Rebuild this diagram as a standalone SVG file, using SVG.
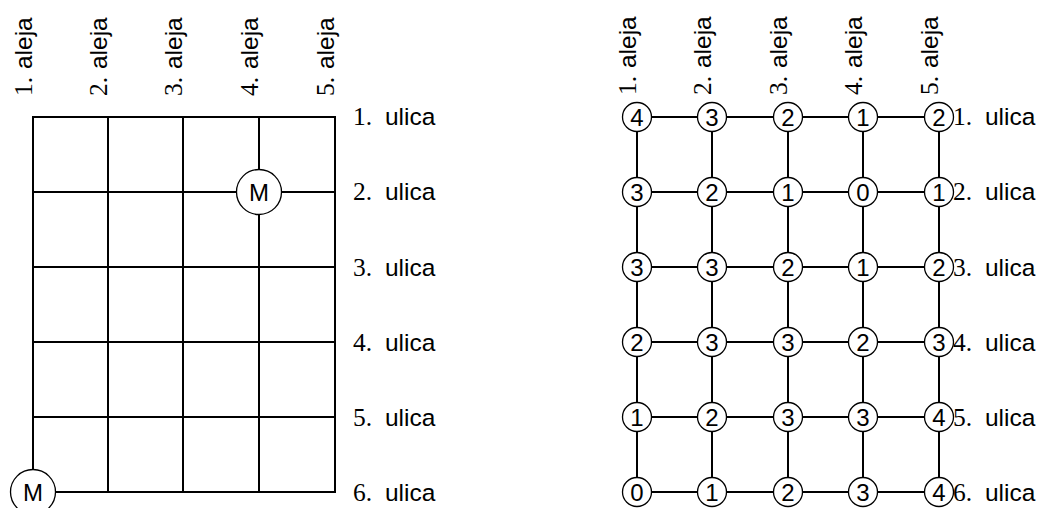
<svg xmlns="http://www.w3.org/2000/svg" width="1043" height="508" viewBox="0 0 1043 508">
  <style>
    .edge { stroke: #000; stroke-width: 2; fill: none; stroke-linecap: square; }
    .node circle { fill: #fff; stroke: #000; stroke-width: 1.3; }
    .num { font-family: "Liberation Serif", serif; font-size: 25.5px; }
    .sans { font-family: "Liberation Sans", sans-serif; font-size: 24.5px; }
    .val { font-family: "Liberation Sans", sans-serif; font-size: 24px; text-anchor: middle; }
  </style>

  <!-- left street map -->
  <g id="left-connectors">
    <path class="edge" d="M33 117H335M33 192H335M33 267H335M33 342H335M33 417H335M33 492H335"/>
    <path class="edge" d="M33 117V492M108 117V492M183 117V492M259 117V492M335 117V492"/>
  </g>
  <g id="left-avenues">
    <text transform="translate(32,96) rotate(-90)"><tspan class="num">1.</tspan><tspan class="sans" dx="1"> aleja</tspan></text>
    <text transform="translate(107,96) rotate(-90)"><tspan class="num">2.</tspan><tspan class="sans" dx="1"> aleja</tspan></text>
    <text transform="translate(182,96) rotate(-90)"><tspan class="num">3.</tspan><tspan class="sans" dx="1"> aleja</tspan></text>
    <text transform="translate(258,96) rotate(-90)"><tspan class="num">4.</tspan><tspan class="sans" dx="1"> aleja</tspan></text>
    <text transform="translate(334,96) rotate(-90)"><tspan class="num">5.</tspan><tspan class="sans" dx="1"> aleja</tspan></text>
  </g>
  <g id="left-streets">
    <text x="353" y="125"><tspan class="num">1.</tspan><tspan class="sans" dx="6"> ulica</tspan></text>
    <text x="353" y="200"><tspan class="num">2.</tspan><tspan class="sans" dx="6"> ulica</tspan></text>
    <text x="353" y="276"><tspan class="num">3.</tspan><tspan class="sans" dx="6"> ulica</tspan></text>
    <text x="353" y="351"><tspan class="num">4.</tspan><tspan class="sans" dx="6"> ulica</tspan></text>
    <text x="353" y="426"><tspan class="num">5.</tspan><tspan class="sans" dx="6"> ulica</tspan></text>
    <text x="353" y="501"><tspan class="num">6.</tspan><tspan class="sans" dx="6"> ulica</tspan></text>
  </g>
  <g id="m-top" class="node">
    <circle cx="259" cy="192" r="22.5"/>
    <text class="val" x="259" y="200.5">M</text>
  </g>
  <g id="m-bottom" class="node">
    <circle cx="33" cy="492" r="22.5"/>
    <text class="val" x="33" y="500.5">M</text>
  </g>

  <!-- right distance grid -->
  <g id="right-connectors">
    <path class="edge" d="M637 117H939M637 192H939M637 267H939M637 342H939M637 417H939M637 492H939"/>
    <path class="edge" d="M637 117V492M712 117V492M788 117V492M863 117V492M939 117V492"/>
  </g>
  <g id="right-avenues">
    <text transform="translate(636,95) rotate(-90)"><tspan class="num">1.</tspan><tspan class="sans" dx="1"> aleja</tspan></text>
    <text transform="translate(711,95) rotate(-90)"><tspan class="num">2.</tspan><tspan class="sans" dx="1"> aleja</tspan></text>
    <text transform="translate(787,95) rotate(-90)"><tspan class="num">3.</tspan><tspan class="sans" dx="1"> aleja</tspan></text>
    <text transform="translate(862,95) rotate(-90)"><tspan class="num">4.</tspan><tspan class="sans" dx="1"> aleja</tspan></text>
    <text transform="translate(938,95) rotate(-90)"><tspan class="num">5.</tspan><tspan class="sans" dx="1"> aleja</tspan></text>
  </g>
  <g id="right-streets">
    <text x="953" y="125"><tspan class="num">1.</tspan><tspan class="sans" dx="6"> ulica</tspan></text>
    <text x="953" y="200"><tspan class="num">2.</tspan><tspan class="sans" dx="6"> ulica</tspan></text>
    <text x="953" y="276"><tspan class="num">3.</tspan><tspan class="sans" dx="6"> ulica</tspan></text>
    <text x="953" y="351"><tspan class="num">4.</tspan><tspan class="sans" dx="6"> ulica</tspan></text>
    <text x="953" y="426"><tspan class="num">5.</tspan><tspan class="sans" dx="6"> ulica</tspan></text>
    <text x="953" y="501"><tspan class="num">6.</tspan><tspan class="sans" dx="6"> ulica</tspan></text>
  </g>

  <g id="d-1-1" class="node"><circle cx="637" cy="117" r="14.5"/><text class="val" x="637" y="125.5">4</text></g>
  <g id="d-1-2" class="node"><circle cx="712" cy="117" r="14.5"/><text class="val" x="712" y="125.5">3</text></g>
  <g id="d-1-3" class="node"><circle cx="788" cy="117" r="14.5"/><text class="val" x="788" y="125.5">2</text></g>
  <g id="d-1-4" class="node"><circle cx="863" cy="117" r="14.5"/><text class="val" x="863" y="125.5">1</text></g>
  <g id="d-1-5" class="node"><circle cx="939" cy="117" r="14.5"/><text class="val" x="939" y="125.5">2</text></g>

  <g id="d-2-1" class="node"><circle cx="637" cy="192" r="14.5"/><text class="val" x="637" y="200.5">3</text></g>
  <g id="d-2-2" class="node"><circle cx="712" cy="192" r="14.5"/><text class="val" x="712" y="200.5">2</text></g>
  <g id="d-2-3" class="node"><circle cx="788" cy="192" r="14.5"/><text class="val" x="788" y="200.5">1</text></g>
  <g id="d-2-4" class="node"><circle cx="863" cy="192" r="14.5"/><text class="val" x="863" y="200.5">0</text></g>
  <g id="d-2-5" class="node"><circle cx="939" cy="192" r="14.5"/><text class="val" x="939" y="200.5">1</text></g>

  <g id="d-3-1" class="node"><circle cx="637" cy="267" r="14.5"/><text class="val" x="637" y="275.5">3</text></g>
  <g id="d-3-2" class="node"><circle cx="712" cy="267" r="14.5"/><text class="val" x="712" y="275.5">3</text></g>
  <g id="d-3-3" class="node"><circle cx="788" cy="267" r="14.5"/><text class="val" x="788" y="275.5">2</text></g>
  <g id="d-3-4" class="node"><circle cx="863" cy="267" r="14.5"/><text class="val" x="863" y="275.5">1</text></g>
  <g id="d-3-5" class="node"><circle cx="939" cy="267" r="14.5"/><text class="val" x="939" y="275.5">2</text></g>

  <g id="d-4-1" class="node"><circle cx="637" cy="342" r="14.5"/><text class="val" x="637" y="350.5">2</text></g>
  <g id="d-4-2" class="node"><circle cx="712" cy="342" r="14.5"/><text class="val" x="712" y="350.5">3</text></g>
  <g id="d-4-3" class="node"><circle cx="788" cy="342" r="14.5"/><text class="val" x="788" y="350.5">3</text></g>
  <g id="d-4-4" class="node"><circle cx="863" cy="342" r="14.5"/><text class="val" x="863" y="350.5">2</text></g>
  <g id="d-4-5" class="node"><circle cx="939" cy="342" r="14.5"/><text class="val" x="939" y="350.5">3</text></g>

  <g id="d-5-1" class="node"><circle cx="637" cy="417" r="14.5"/><text class="val" x="637" y="425.5">1</text></g>
  <g id="d-5-2" class="node"><circle cx="712" cy="417" r="14.5"/><text class="val" x="712" y="425.5">2</text></g>
  <g id="d-5-3" class="node"><circle cx="788" cy="417" r="14.5"/><text class="val" x="788" y="425.5">3</text></g>
  <g id="d-5-4" class="node"><circle cx="863" cy="417" r="14.5"/><text class="val" x="863" y="425.5">3</text></g>
  <g id="d-5-5" class="node"><circle cx="939" cy="417" r="14.5"/><text class="val" x="939" y="425.5">4</text></g>

  <g id="d-6-1" class="node"><circle cx="637" cy="492" r="14.5"/><text class="val" x="637" y="500.5">0</text></g>
  <g id="d-6-2" class="node"><circle cx="712" cy="492" r="14.5"/><text class="val" x="712" y="500.5">1</text></g>
  <g id="d-6-3" class="node"><circle cx="788" cy="492" r="14.5"/><text class="val" x="788" y="500.5">2</text></g>
  <g id="d-6-4" class="node"><circle cx="863" cy="492" r="14.5"/><text class="val" x="863" y="500.5">3</text></g>
  <g id="d-6-5" class="node"><circle cx="939" cy="492" r="14.5"/><text class="val" x="939" y="500.5">4</text></g>
</svg>
